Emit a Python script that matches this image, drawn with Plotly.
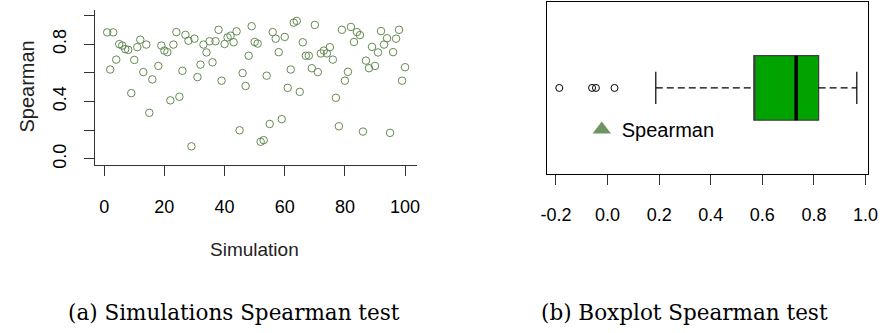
import plotly.graph_objects as go

# ---------------- data ----------------
simulation = [1, 2, 3, 4, 5, 6, 7, 8, 9, 10, 11, 12, 13, 14, 15, 16,
              18, 19, 20, 21, 22, 23, 24, 25, 26, 27, 28, 29, 30, 31, 32, 33,
              34, 35, 36, 37, 38, 39, 40, 41, 42, 43, 44, 45, 46, 47, 48, 49,
              50, 51, 52, 53, 54, 55, 56, 57, 58, 59, 60, 61, 62, 63, 64, 65,
              66, 67, 68, 69, 70, 71, 72, 73, 74, 75, 76, 77, 78, 79, 80, 81,
              82, 83, 84, 85, 86, 87, 88, 89, 90, 91, 92, 93, 94, 95, 96, 97,
              98, 99, 100]
spearman = [0.882, 0.623, 0.882, 0.692, 0.800, 0.790, 0.765, 0.760, 0.458, 0.690,
            0.779, 0.831, 0.605, 0.797, 0.321, 0.554,
            0.648, 0.790, 0.755, 0.744, 0.408, 0.797, 0.884, 0.433, 0.614, 0.865,
            0.824, 0.087, 0.838, 0.570, 0.657, 0.797, 0.742, 0.820, 0.673, 0.820,
            0.900, 0.545, 0.801, 0.847, 0.859, 0.813, 0.889, 0.199, 0.598, 0.508,
            0.719, 0.925, 0.815, 0.804, 0.119, 0.130, 0.580, 0.243, 0.884, 0.838,
            0.744, 0.277, 0.850, 0.495, 0.623, 0.950, 0.962, 0.467, 0.813, 0.719,
            0.719, 0.632, 0.934, 0.605, 0.735, 0.755, 0.735, 0.779, 0.692, 0.426,
            0.227, 0.900, 0.545, 0.607, 0.920, 0.815, 0.884, 0.863, 0.190, 0.685,
            0.632, 0.781, 0.648, 0.742, 0.891, 0.797, 0.841, 0.181, 0.744, 0.838,
            0.900, 0.545, 0.639]

x_ticks_left = [0, 20, 40, 60, 80, 100]
y_ticks_left = [0.0, 0.2, 0.4, 0.6, 0.8, 1.0]
y_ticktext_left = ["0.0", "", "0.4", "", "0.8", ""]

# boxplot statistics (horizontal)
box_q1 = 0.567
box_median = 0.731
box_q3 = 0.818
box_lowerfence = 0.187
box_upperfence = 0.966
box_outliers = [-0.187, -0.060, -0.045, 0.027]
x_ticks_right = [-0.2, 0.0, 0.2, 0.4, 0.6, 0.8, 1.0]
x_ticktext_right = ["-0.2", "0.0", "0.2", "0.4", "0.6", "0.8", "1.0"]

legend_label = "Spearman"
caption_a = "(a) Simulations Spearman test"
caption_b = "(b) Boxplot Spearman test"

# ---------------- styles ----------------
W, H = 888, 333
PT_COL = "#658A55"
BOX_FILL = "#00A300"
REG = "Liberation Sans, Arial, sans-serif"
SERIF = "DejaVu Serif, serif"
TICK_SIZE = 18
BOX_W = 0.75
CAP_H = BOX_W * 0.25

fig = go.Figure()

# left scatter
fig.add_trace(go.Scatter(
    x=simulation, y=spearman, mode="markers", xaxis="x", yaxis="y",
    marker=dict(symbol="circle-open", size=7.5, color=PT_COL, line=dict(width=1, color=PT_COL)),
    showlegend=False, hoverinfo="skip"))

# right boxplot body
fig.add_trace(go.Box(
    orientation="h", y=[0], q1=[box_q1], median=[box_q1], q3=[box_q3],
    lowerfence=[box_q1], upperfence=[box_q3], width=BOX_W, whiskerwidth=0,
    fillcolor=BOX_FILL, line=dict(color="#404040", width=1.3),
    xaxis="x2", yaxis="y2", showlegend=False, hoverinfo="skip", boxpoints=False))

# median
fig.add_trace(go.Scatter(
    x=[box_median, box_median], y=[-BOX_W / 2, BOX_W / 2], mode="lines",
    line=dict(color="black", width=3.5), xaxis="x2", yaxis="y2",
    showlegend=False, hoverinfo="skip"))
# whiskers (dashed)
for a, b in [(box_lowerfence, box_q1), (box_q3, box_upperfence)]:
    fig.add_trace(go.Scatter(
        x=[a, b], y=[0, 0], mode="lines",
        line=dict(color="black", width=1.2, dash="7px,4px"), xaxis="x2", yaxis="y2",
        showlegend=False, hoverinfo="skip"))
# caps
for v in [box_lowerfence, box_upperfence]:
    fig.add_trace(go.Scatter(
        x=[v, v], y=[-CAP_H, CAP_H], mode="lines",
        line=dict(color="black", width=1.2), xaxis="x2", yaxis="y2",
        showlegend=False, hoverinfo="skip"))
# outliers
fig.add_trace(go.Scatter(
    x=box_outliers, y=[0] * len(box_outliers), mode="markers",
    marker=dict(symbol="circle-open", size=7, color="black", line=dict(width=1, color="black")),
    xaxis="x2", yaxis="y2", showlegend=False, hoverinfo="skip"))

# legend entry
fig.add_trace(go.Scatter(
    x=[None], y=[None], mode="markers", name=legend_label,
    marker=dict(symbol="triangle-up", size=18, color="#6E9464"),
    xaxis="x2", yaxis="y2", showlegend=True))

axis_common = dict(showgrid=False, zeroline=False, ticks="outside", ticklen=10,
                   tickcolor="#333", tickwidth=1.2, linecolor="#333", linewidth=1.2,
                   tickfont=dict(family=REG, size=TICK_SIZE, color="black"))

fig.update_layout(
    width=W, height=H, margin=dict(l=0, r=0, t=0, b=0),
    paper_bgcolor="white", plot_bgcolor="white",
    xaxis=dict(domain=[90 / W, 418 / W], range=[-2.96, 103.96], anchor="y",
               tickvals=x_ticks_left, showline=True, ticklabelstandoff=16, **axis_common),
    yaxis=dict(domain=[1 - 166.7 / H, 1 - 9.7 / H], range=[-0.041, 1.041], anchor="x",
               tickvals=y_ticks_left, ticktext=y_ticktext_left, tickangle=-90,
               showline=True, ticklabelstandoff=11, **axis_common),
    xaxis2=dict(domain=[550.7 / W, 877.7 / W], range=[-0.234, 1.009], anchor="y2",
                tickvals=x_ticks_right, ticktext=x_ticktext_right, showline=True,
                mirror=True, ticklabelstandoff=14,
                **{**axis_common, "linecolor": "black"}),
    yaxis2=dict(domain=[1 - 176 / H, 1 - 2 / H], range=[-1, 1], anchor="x2",
                showline=True, mirror=True, linecolor="black", linewidth=1.2,
                showticklabels=False, ticks="", showgrid=False, zeroline=False),
    legend=dict(x=586 / W, y=1 - 131 / H, xanchor="left", yanchor="middle",
                bgcolor="rgba(0,0,0,0)", font=dict(family=REG, size=20, color="black"),
                itemsizing="trace"),
    annotations=[
        dict(text="Spearman", x=20 / W, y=1 - 88 / H, xref="paper", yref="paper",
             textangle=-90, showarrow=False, font=dict(family=REG, size=20, color="#222"),
             xanchor="center", yanchor="middle"),
        dict(text="Simulation", x=252.5 / W, y=1 - 252.5 / H, xref="paper", yref="paper",
             showarrow=False, font=dict(family=REG, size=19, color="#222"),
             xanchor="center", yanchor="middle"),
        dict(text=caption_a, x=231 / W, y=1 - 316 / H, xref="paper", yref="paper",
             showarrow=False, font=dict(family=SERIF, size=21.5, color="black"),
             xanchor="center", yanchor="middle"),
        dict(text=caption_b, x=690.5 / W, y=1 - 316 / H, xref="paper", yref="paper",
             showarrow=False, font=dict(family=SERIF, size=21.5, color="black"),
             xanchor="center", yanchor="middle"),
    ],
)

fig.write_html("out.html")
